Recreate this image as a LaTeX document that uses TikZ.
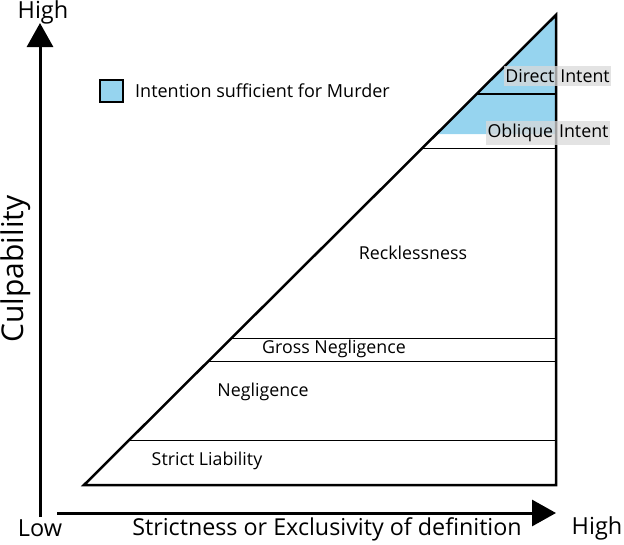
\documentclass[tikz,border=0pt]{standalone}
\usepackage{fontspec}
\setmainfont{Open Sans}
\usetikzlibrary{arrows.meta}
\definecolor{murderblue}{HTML}{96D4EF}
\begin{document}
\begin{tikzpicture}[x=1pt,y=-1pt,
  lbl/.style={font=\fontsize{17.8}{20}\selectfont, inner sep=0pt},
  greylbl/.style={lbl, fill=black!15, fill opacity=0.75, text opacity=1, inner xsep=1.5pt, inner ysep=3pt},
  axtext/.style={lbl, font=\fontsize{23.5}{26}\selectfont},
  thinline/.style={line width=1pt},
  axis/.style={line width=3pt, -{Triangle[length=24pt,width=26pt]}},
  outline/.style={line width=2.5pt, line join=miter}]
\useasboundingbox (0,0) rectangle (624,544);
% coordinates
\coordinate (bl) at (84,485);
\coordinate (br) at (556,485);
\coordinate (apex) at (556,15);
% blue region
\fill[murderblue] (apex) -- (556,134) -- (436.5,134) -- cycle;
% divisions
\coordinate (d1l) at (476.7,94);  \coordinate (d1r) at (556,94);
\coordinate (d2l) at (422.4,148); \coordinate (d2r) at (556,148);
\coordinate (d3l) at (232.1,338); \coordinate (d3r) at (556,338);
\coordinate (d4l) at (209.0,361); \coordinate (d4r) at (556,361);
\coordinate (d5l) at (129.7,440); \coordinate (d5r) at (556,440);
\draw[line width=2pt] (d1l) -- (d1r);
\draw[thinline] (d2l) -- (d2r);
\draw[thinline] (d3l) -- (d3r);
\draw[thinline] (d4l) -- (d4r);
\draw[thinline] (d5l) -- (d5r);
% triangle
\draw[outline] (bl) -- (apex) -- (br) -- cycle;
% axes
\coordinate (o1) at (40,517);
\coordinate (ytop) at (40,23);
\coordinate (o2) at (57,513);
\coordinate (xend) at (556,513);
\draw[axis] (o1) -- (ytop);
\draw[axis] (o2) -- (xend);
% axis texts
\node[axtext] (hightop) at (43,12) {High};
\node[axtext] (low) at (40,528) {Low};
\node[axtext] (highright) at (597,528) {High};
\node[lbl, font=\fontsize{30}{32}\selectfont, rotate=90] (culp) at (16,269) {Culpability};
\node[lbl, font=\fontsize{23.3}{26}\selectfont] (xlab) at (327,529) {Strictness or Exclusivity of definition};
% legend
\node[draw, line width=1.8pt, fill=murderblue, minimum width=23pt, minimum height=22pt, inner sep=0pt] (legbox) at (111.5,91) {};
\node[lbl, font=\fontsize{18}{20}\selectfont, anchor=west] (legtext) at (135,91) {Intention sufficient for Murder};
% region labels
\node[lbl] (reck) at (413,253) {Recklessness};
\node[lbl] (gross) at (334,349) {Gross Negligence};
\node[lbl] (negl) at (263,392) {Negligence};
\node[lbl] (strict) at (207,461) {Strict Liability};
\node[greylbl] (direct) at (557.5,76) {Direct\,\,Intent};
\node[greylbl] (oblique) at (548,133) {Oblique\,\,Intent};
\end{tikzpicture}
\end{document}
